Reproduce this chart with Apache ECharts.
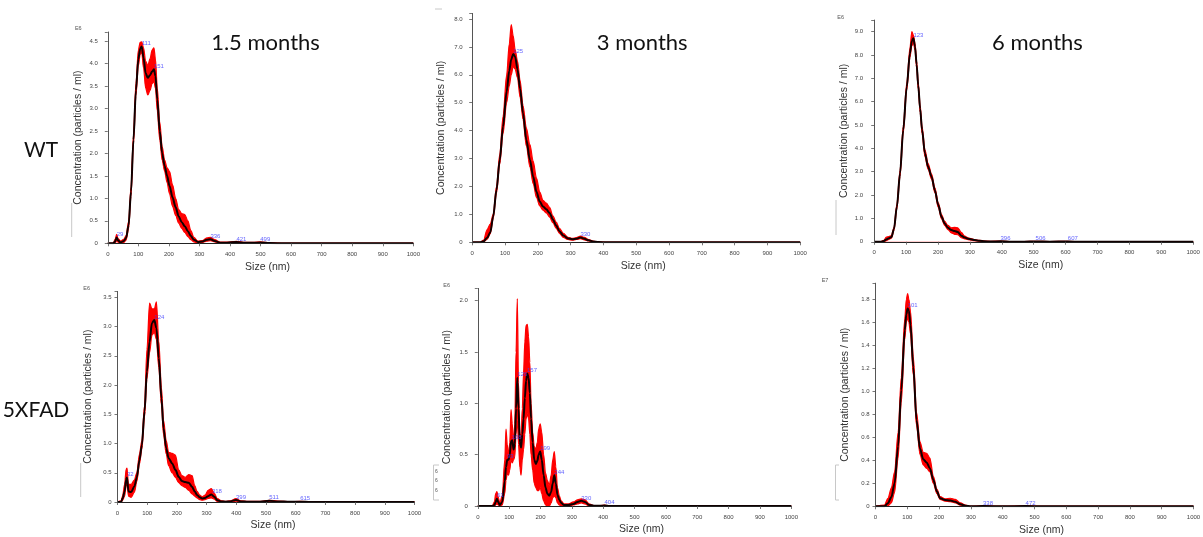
<!DOCTYPE html>
<html><head><meta charset="utf-8">
<style>html,body{margin:0;padding:0;background:#fff}#c{width:1203px;height:537px}</style>
</head><body><div id="c"></div>
<script src="https://cdn.jsdelivr.net/npm/echarts@6/dist/echarts.min.js"></script>
<script>
// ---------- DATA (size in nm; concentration in panel units) ----------
// WT, 1.5 months (E6)
const size1 = [0,18,24,29,34,42,52,60,68,76,84,92,100,106,111,117,124,131,138,145,151,156,162,170,178,186,194,202,212,222,232,242,252,262,272,282,295,310,324,336,350,368,390,421,450,475,499,530,580,1000];
const mean1 = [0,0,0.04,0.13,0.06,0.02,0.05,0.12,0.4,1.15,2.3,3.4,4.1,4.33,4.38,4.12,3.78,3.68,3.74,3.82,3.87,3.72,3.2,2.5,2.0,1.72,1.5,1.28,1.02,0.8,0.6,0.47,0.38,0.27,0.16,0.08,0.03,0.04,0.08,0.09,0.05,0.015,0.015,0.03,0.01,0.01,0.02,0.005,0,0];
const lo1 = [0,0,0,0.07,0.02,0,0.02,0.07,0.32,1.05,2.2,3.28,3.95,4.2,4.25,3.9,3.45,3.3,3.4,3.55,3.6,3.45,2.95,2.3,1.85,1.6,1.35,1.1,0.82,0.62,0.45,0.33,0.24,0.15,0.08,0.03,0.01,0.02,0.05,0.06,0.03,0.005,0.005,0.02,0,0,0.01,0,0,0];
const hi1 = [0,0,0.09,0.2,0.1,0.05,0.09,0.17,0.48,1.25,2.42,3.55,4.3,4.47,4.48,4.35,4.05,3.95,4.1,4.3,4.35,4.1,3.45,2.7,2.15,1.85,1.68,1.6,1.3,1.0,0.75,0.66,0.64,0.5,0.28,0.13,0.05,0.06,0.12,0.13,0.08,0.025,0.025,0.045,0.02,0.02,0.03,0.01,0,0];
const peakSize1 = [29,111,151,336,421,499];
const peakVal1 = [0.13,4.38,3.87,0.09,0.03,0.02];

// WT, 3 months (E6)
const size2 = [0,25,35,45,55,64,74,84,94,105,113,119,125,131,138,146,155,165,176,186,196,206,216,226,236,246,256,266,278,292,305,318,330,342,355,368,385,410,1000];
const mean2 = [0,0,0.04,0.15,0.35,0.92,1.87,2.95,4.14,5.4,6.15,6.55,6.75,6.65,6.2,5.5,4.62,3.67,2.95,2.35,1.81,1.46,1.28,1.18,1.05,0.82,0.6,0.4,0.24,0.14,0.11,0.13,0.17,0.13,0.07,0.03,0.01,0,0];
const lo2 = [0,0,0.02,0.1,0.3,0.85,1.75,2.8,3.9,5.0,5.6,6.0,6.3,6.2,5.9,5.2,4.4,3.45,2.7,2.1,1.6,1.3,1.15,1.05,0.9,0.7,0.5,0.32,0.18,0.1,0.08,0.1,0.13,0.09,0.05,0.02,0,0,0];
const hi2 = [0,0,0.08,0.45,0.65,1.0,2.0,3.15,4.5,6.0,7.1,7.8,7.4,6.9,6.5,5.8,4.9,4.1,3.5,2.9,2.3,1.8,1.5,1.4,1.25,0.95,0.72,0.5,0.32,0.18,0.14,0.17,0.22,0.18,0.1,0.04,0.015,0,0];
const peakSize2 = [125,330];
const peakVal2 = [6.75,0.17];

// WT, 6 months (E6)
const size3 = [0,20,30,38,46,54,62,71,81,91,102,112,118,123,128,133,138,144,150,159,169,180,190,201,211,221,231,242,252,262,273,284,294,305,315,330,346,365,396,430,470,506,550,607,650,1000];
const mean3 = [0,0,0.03,0.1,0.15,0.2,0.55,1.5,2.93,4.79,6.64,8.07,8.6,8.72,8.36,7.6,6.7,5.7,4.8,3.79,3.21,2.79,2.21,1.57,1.07,0.78,0.6,0.5,0.46,0.42,0.26,0.18,0.13,0.1,0.07,0.04,0.02,0.01,0.02,0.005,0.005,0.01,0.005,0.01,0,0];
const lo3 = [0,0,0,0.05,0.1,0.15,0.48,1.4,2.8,4.65,6.5,7.9,8.4,8.55,8.2,7.45,6.55,5.55,4.65,3.65,3.1,2.68,2.1,1.47,0.98,0.7,0.52,0.38,0.32,0.3,0.18,0.12,0.09,0.07,0.05,0.02,0.01,0,0.01,0,0,0,0,0,0,0];
const hi3 = [0,0,0.06,0.2,0.22,0.26,0.62,1.6,3.05,4.95,6.8,8.3,9.0,8.85,8.5,7.75,6.85,5.85,4.95,3.95,3.35,2.9,2.32,1.67,1.16,0.87,0.7,0.6,0.62,0.6,0.4,0.24,0.17,0.13,0.09,0.06,0.03,0.02,0.03,0.01,0.01,0.02,0.01,0.02,0,0];
const peakSize3 = [123,396,506,607];
const peakVal3 = [8.72,0.02,0.01,0.01];

// 5XFAD, 1.5 months (E6)
const size4 = [0,12,17,24,29,32,37,46,57,65,74,82,91,99,108,116,124,131,139,148,155,164,172,184,195,206,217,228,240,251,260,268,277,285,295,305,316,326,336,350,364,380,399,415,440,480,511,540,580,615,650,1000];
const mean4 = [0,0,0.06,0.18,0.38,0.42,0.18,0.17,0.27,0.42,0.72,0.97,1.55,2.23,2.74,3.06,3.11,2.97,2.46,1.77,1.26,0.92,0.75,0.66,0.55,0.43,0.36,0.34,0.33,0.26,0.18,0.12,0.08,0.06,0.07,0.1,0.13,0.09,0.03,0.01,0.005,0.01,0.035,0.01,0.003,0.005,0.02,0.01,0.003,0.006,0,0];
const lo4 = [0,0,0.03,0.1,0.28,0.3,0.1,0.08,0.17,0.35,0.65,0.9,1.45,2.1,2.55,2.85,2.9,2.78,2.3,1.65,1.15,0.82,0.62,0.5,0.42,0.33,0.28,0.25,0.2,0.14,0.1,0.07,0.04,0.03,0.04,0.06,0.07,0.05,0.01,0,0,0,0.015,0,0,0,0.01,0,0,0,0,0];
const hi4 = [0,0.02,0.1,0.3,0.56,0.58,0.3,0.3,0.38,0.5,0.82,1.05,1.65,2.6,3.4,3.3,3.3,3.42,2.75,1.95,1.4,1.05,0.85,0.83,0.8,0.55,0.45,0.42,0.47,0.45,0.28,0.18,0.12,0.09,0.12,0.2,0.23,0.15,0.06,0.02,0.01,0.02,0.06,0.02,0.01,0.01,0.03,0.015,0.005,0.01,0,0];
const peakSize4 = [32,124,318,399,511,615];
const peakVal4 = [0.42,3.11,0.13,0.035,0.02,0.006];

// 5XFAD, 3 months (E6)
const size5 = [0,46,53,57,61,65,70,78,86,90,94,98,102,106,110,114,118,122,126,130,134,138,142,146,150,154,158,162,166,170,175,180,185,190,194,199,204,210,216,222,228,234,239,244,249,254,260,266,275,288,305,318,330,342,355,370,390,404,420,1000];
const mean5 = [0,0,0.01,0.04,0.07,0.04,0.01,0.04,0.24,0.38,0.45,0.45,0.5,0.63,0.64,0.55,0.6,0.95,1.25,0.95,0.62,0.57,0.7,0.85,1.05,1.22,1.29,1.25,1.1,0.85,0.62,0.45,0.41,0.44,0.5,0.53,0.45,0.3,0.18,0.12,0.1,0.14,0.22,0.3,0.22,0.11,0.06,0.03,0.01,0.01,0.02,0.04,0.05,0.04,0.01,0.003,0.002,0.004,0,0];
const lo5 = [0,0,0,0.01,0.02,0.01,0,0.01,0.12,0.25,0.32,0.3,0.35,0.45,0.42,0.45,0.48,0.7,0.85,0.6,0.38,0.3,0.45,0.55,0.7,0.85,0.9,0.85,0.7,0.5,0.35,0.22,0.18,0.15,0.15,0.18,0.12,0.05,0.01,0,0,0.03,0.08,0.1,0.08,0.03,0.01,0,0,0,0.01,0.02,0.03,0.02,0,0,0,0,0,0];
const hi5 = [0,0,0.04,0.12,0.14,0.09,0.03,0.1,0.45,0.75,0.6,0.48,0.62,0.94,0.8,0.6,0.8,1.5,2.02,1.2,0.7,0.68,0.95,1.3,1.6,1.76,1.77,1.65,1.4,1.0,0.72,0.58,0.55,0.62,0.75,0.8,0.72,0.5,0.32,0.25,0.2,0.3,0.45,0.53,0.38,0.18,0.1,0.05,0.02,0.02,0.04,0.06,0.07,0.06,0.02,0.005,0.004,0.008,0,0];
const peakSize5 = [61,93,108,126,157,199,244,330,404];
const peakVal5 = [0.07,0.45,0.64,1.25,1.29,0.53,0.3,0.05,0.004];

// 5XFAD, 6 months (E7)
const size6 = [0,28,39,50,60,71,81,92,97,101,105,110,119,129,140,150,161,171,182,193,203,219,235,251,267,283,300,338,400,472,520,1000];
const mean6 = [0,0,0.026,0.08,0.2,0.52,1.01,1.53,1.67,1.72,1.7,1.58,1.21,0.75,0.5,0.41,0.38,0.33,0.23,0.13,0.07,0.055,0.05,0.04,0.017,0.005,0,0.003,0,0.002,0,0];
const lo6 = [0,0,0.005,0.03,0.12,0.42,0.9,1.45,1.6,1.64,1.6,1.5,1.14,0.7,0.45,0.36,0.33,0.3,0.2,0.11,0.06,0.045,0.04,0.03,0.01,0,0,0,0,0,0,0];
const hi6 = [0,0.01,0.07,0.16,0.3,0.64,1.12,1.63,1.8,1.85,1.8,1.7,1.3,0.82,0.56,0.47,0.46,0.42,0.26,0.15,0.085,0.065,0.07,0.06,0.03,0.01,0,0.005,0,0.004,0,0];
const peakSize6 = [101,338,472];
const peakVal6 = [1.72,0.003,0.002];

const colTitles = ['1.5 months','3 months','6 months'];
const rowTitles = ['WT','5XFAD'];
const scaleTags = ['E6','E6','E6','E6','E7'];

// ---------- LAYOUT ----------
const panels = [
  {s:size1,m:mean1,lo:lo1,hi:hi1,ps:peakSize1,pv:peakVal1,left:107.8,top:32.0,width:305.5,height:211.3,ymax:4.7,yint:0.5,yoff:5,yGap:19},
  {s:size2,m:mean2,lo:lo2,hi:hi2,ps:peakSize2,pv:peakVal2,left:472.2,top:13.4,width:328,height:228.9,ymax:8.2,yint:1,yoff:4.5,yGap:21.5},
  {s:size3,m:mean3,lo:lo3,hi:hi3,ps:peakSize3,pv:peakVal3,left:874.2,top:20.05,width:319,height:221.7,ymax:9.5,yint:1,yoff:6,yGap:19},
  {s:size4,m:mean4,lo:lo4,hi:hi4,ps:peakSize4,pv:peakVal4,left:117.5,top:291.4,width:297,height:210.6,ymax:3.6,yint:0.5,yoff:1,yGap:23},
  {s:size5,m:mean5,lo:lo5,hi:hi5,ps:peakSize5,pv:peakVal5,left:477.8,top:288.4,width:313.5,height:217.6,ymax:2.12,yint:0.5,yoff:5,yGap:20.5},
  {s:size6,m:mean6,lo:lo6,hi:hi6,ps:peakSize6,pv:peakVal6,left:875.5,top:283.2,width:318,height:223.1,ymax:1.94,yint:0.2,yoff:1,yGap:24}
];

const FONT = '"Liberation Sans", Arial, sans-serif';
const grids=[], xAxes=[], yAxes=[], series=[];
const zip = (a,b)=>a.map((v,i)=>[v,b[i]]);

panels.forEach((p,i)=>{
  grids.push({left:p.left, top:p.top, width:p.width, height:p.height, containLabel:false, outerBoundsMode:'none'});
  xAxes.push({
    type:'value', gridIndex:i, min:0, max:1000, interval:100, z:6,
    axisLine:{show:true, lineStyle:{color:'#222', width:1}},
    axisTick:{show:true, length:3, lineStyle:{color:'#555', width:0.8}},
    axisLabel:{fontSize:6, color:'#444', margin:8, fontFamily:FONT, formatter:v=>String(v)},
    splitLine:{show:false},
    name:'Size (nm)', nameLocation:'middle', nameGap:18,
    nameTextStyle:{fontSize:10.5, color:'#333', fontFamily:FONT, padding:[0,0,0,14]}
  });
  const I = p.yint;
  yAxes.push({
    type:'value', gridIndex:i, min:0, max:p.ymax, interval:I, offset:p.yoff, z:6,
    axisLine:{show:true, lineStyle:{color:'#555', width:1}},
    axisTick:{show:true, length:3, lineStyle:{color:'#555', width:0.8}},
    axisLabel:{fontSize:6, color:'#444', margin:5, fontFamily:FONT,
      formatter:v=>{ if (Math.abs(v/I-Math.round(v/I))>1e-6) return ''; return v===0?'0':v.toFixed(1);} },
    splitLine:{show:false},
    name:'Concentration (particles / ml)', nameLocation:'middle', nameGap:p.yGap, nameRotate:90,
    nameTextStyle:{fontSize:10.5, color:'#333', fontFamily:FONT}
  });
  const common = {type:'line', xAxisIndex:i, yAxisIndex:i, smooth:0.3, smoothMonotone:'x', showSymbol:false, symbol:'none', silent:true, animation:false};
  series.push(Object.assign({}, common, {data:zip(p.s,p.hi), z:2,
    lineStyle:{color:'#ff0000', width:1.2}, areaStyle:{color:'#ff0000', opacity:1}}));
  series.push(Object.assign({}, common, {data:zip(p.s,p.lo), z:3,
    lineStyle:{color:'#ff0000', width:1.2}, areaStyle:{color:'#ffffff', opacity:1}}));
  series.push(Object.assign({}, common, {data:zip(p.s,p.m), z:4,
    lineStyle:{color:'#100000', width:2}}));
  series.push({type:'scatter', xAxisIndex:i, yAxisIndex:i, data:zip(p.ps,p.pv), symbolSize:0, z:7, silent:true, animation:false,
    label:{show:true, position:'right', distance:0, offset:[0,-3], formatter:q=>String(q.value[0]),
      color:'#3b3bff', fontSize:6, fontFamily:FONT}});
});

const txt = (t,x,y,size,color,align)=>({type:'text', silent:true, z:10,
  style:{text:t, x:x, y:y, font:size+'px '+(size>15?'Lato, "Open Sans", sans-serif':FONT), fill:color, align:align||'center', verticalAlign:'middle'}});
const vline = (x,y1,y2)=>({type:'line', silent:true, shape:{x1:x,y1:y1,x2:x,y2:y2}, style:{stroke:'#c8c8c8', lineWidth:1}});
const hline = (x1,x2,y)=>({type:'line', silent:true, shape:{x1:x1,y1:y,x2:x2,y2:y}, style:{stroke:'#c8c8c8', lineWidth:1}});

const graphics = [
  txt(colTitles[0],265.5,43.3,22,'#111'),
  txt(colTitles[1],642.2,43.3,22,'#111'),
  txt(colTitles[2],1037.5,43.3,22,'#111'),
  txt(rowTitles[0],41,150,21,'#111'),
  txt(rowTitles[1],36,410,21,'#111'),
  txt(scaleTags[0],78.3,28.3,5.5,'#555'),
  txt(scaleTags[1],840.7,17.5,5.5,'#555'),
  txt(scaleTags[2],86.7,288.3,5.5,'#555'),
  txt(scaleTags[3],446.7,285,5.5,'#555'),
  txt(scaleTags[4],825,280.7,5.5,'#555'),
  hline(435,442,9),
  vline(71.7,203,237), vline(836,200,235), vline(80.7,463,497),
  vline(433.5,465,500), hline(433.5,439,465), hline(433.5,439,500),
  txt('6',436.5,471.7,5,'#555'), txt('6',436.5,481,5,'#555'), txt('6',436.5,490.5,5,'#555'),
  vline(835.5,465,500), hline(835.5,839,465), hline(835.5,839,500)
];

const chart = echarts.init(document.getElementById('c'), null, {renderer:'canvas'});
chart.setOption({
  backgroundColor:'#ffffff', animation:false,
  grid:grids, xAxis:xAxes, yAxis:yAxes, series:series, graphic:graphics
});
</script>
</body></html>
